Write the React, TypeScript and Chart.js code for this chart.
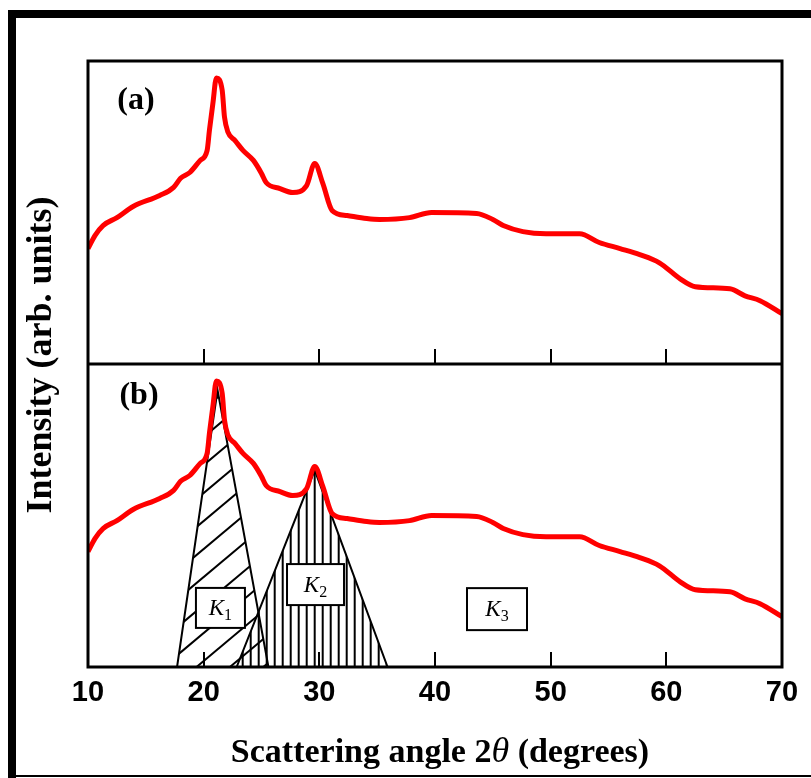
import React, { useEffect, useRef } from "react";
import { Chart, registerables } from "chart.js";
Chart.register(...registerables);

// Scattering angle 2θ (degrees)
const angles = [
  10.0, 10.6, 11.3, 12.5, 13.9, 16.2, 17.4, 18.0, 18.8, 19.7, 20.3, 20.5, 20.8, 21.1,
  21.6, 21.8, 22.1, 22.7, 23.4, 24.3, 25.0, 25.4, 26.6, 27.7, 28.9, 29.6, 30.3, 31.1,
  32.4, 34.1, 35.2, 37.8, 39.7, 43.6, 45.0, 45.9, 47.6, 49.6, 52.5, 54.2, 56.0, 57.7,
  59.4, 61.2, 62.5, 65.5, 66.8, 68.1, 70.0,
];
// Intensity (arb. units), same pattern in panels (a) and (b)
const intensity = [
  38.1, 42.4, 45.7, 48.3, 52.0, 55.6, 58.3, 61.3, 63.2, 67.2, 70.5, 77.2, 86.1, 94.4,
  90.4, 81.5, 76.5, 73.8, 70.5, 67.2, 62.9, 59.9, 57.9, 56.6, 58.9, 66.2, 59.6, 50.7,
  49.0, 48.0, 47.7, 48.3, 50.0, 49.7, 47.7, 45.7, 43.7, 43.0, 43.0, 40.1, 38.1, 36.1,
  33.4, 28.1, 25.5, 24.8, 22.5, 20.9, 16.6,
];
const xTicks = [10, 20, 30, 40, 50, 60, 70];
// Triangular peak components in panel (b)
const k1Angles = [17.7, 21.2, 25.6];
const k1Heights = [0, 91.4, 0];
const k2Angles = [22.85, 29.6, 35.9];
const k2Heights = [0, 65.0, 0];
// Component labels: name, subscript, angle, height
const labelNames = ["K", "K", "K"];
const labelSubs = ["1", "2", "3"];
const labelAngles = [21.45, 29.67, 45.36];
const labelHeights = [19.5, 27.2, 19.1];
const labelBoxW = [49, 57, 60];
const labelBoxH = [40, 41, 42];

const SERIF = '"Liberation Serif", "Times New Roman", serif';
const SANS = '"Liberation Sans", Arial, sans-serif';

const pts = (xs: number[], ys: number[]) => xs.map((x, i) => ({ x, y: ys[i] }));

export default function App() {
  const ref = useRef<HTMLCanvasElement | null>(null);
  useEffect(() => {
    const canvas = ref.current;
    if (!canvas) return;

    const decor = {
      id: "decor",
      beforeDatasetsDraw(chart: any) {
        const ctx = chart.ctx;
        const x = chart.scales.x;
        const yb = chart.scales.yb;
        const tri = (xs: number[], ys: number[]) =>
          xs.map((v, i) => [x.getPixelForValue(v), yb.getPixelForValue(ys[i])]);
        // K1 diagonal hatching
        const t1 = tri(k1Angles, k1Heights);
        ctx.save();
        ctx.beginPath();
        ctx.moveTo(t1[0][0], t1[0][1]);
        ctx.lineTo(t1[1][0], t1[1][1]);
        ctx.lineTo(t1[2][0], t1[2][1]);
        ctx.closePath();
        ctx.clip();
        ctx.strokeStyle = "#000";
        ctx.lineWidth = 2;
        const slope = Math.tan((40 * Math.PI) / 180);
        for (let c = 300; c < 1100; c += 28) {
          ctx.beginPath();
          ctx.moveTo(100, c);
          ctx.lineTo(400, c - slope * 300);
          ctx.stroke();
        }
        ctx.restore();
        // K2 vertical hatching
        const t2 = tri(k2Angles, k2Heights);
        ctx.save();
        ctx.beginPath();
        ctx.moveTo(t2[0][0], t2[0][1]);
        ctx.lineTo(t2[1][0], t2[1][1]);
        ctx.lineTo(t2[2][0], t2[2][1]);
        ctx.closePath();
        ctx.clip();
        ctx.strokeStyle = "#000";
        ctx.lineWidth = 2;
        for (let px = t2[1][0] - 8 * 12; px < t2[2][0] + 2; px += 8) {
          ctx.beginPath();
          ctx.moveTo(px, t2[1][1] - 5);
          ctx.lineTo(px, t2[0][1] + 2);
          ctx.stroke();
        }
        ctx.restore();
      },
      afterDatasetsDraw(chart: any) {
        const ctx = chart.ctx;
        const x = chart.scales.x;
        const yb = chart.scales.yb;
        // label boxes
        for (let i = 0; i < labelNames.length; i++) {
          const cx = x.getPixelForValue(labelAngles[i]);
          const cy = yb.getPixelForValue(labelHeights[i]);
          const w = labelBoxW[i];
          const h = labelBoxH[i];
          ctx.save();
          ctx.fillStyle = "#fff";
          ctx.fillRect(cx - w / 2, cy - h / 2, w, h);
          ctx.strokeStyle = "#000";
          ctx.lineWidth = 2;
          ctx.strokeRect(cx - w / 2, cy - h / 2, w, h);
          ctx.fillStyle = "#000";
          ctx.textBaseline = "alphabetic";
          ctx.font = `italic 23px ${SERIF}`;
          const kw = ctx.measureText(labelNames[i]).width;
          ctx.font = `16px ${SERIF}`;
          const sw = ctx.measureText(labelSubs[i]).width;
          const tx = cx - (kw + sw) / 2;
          ctx.font = `italic 23px ${SERIF}`;
          ctx.fillText(labelNames[i], tx, cy + 7);
          ctx.font = `16px ${SERIF}`;
          ctx.fillText(labelSubs[i], tx + kw, cy + 12);
          ctx.restore();
        }
      },
      afterDraw(chart: any) {
        const ctx = chart.ctx;
        const a = chart.chartArea;
        const x = chart.scales.x;
        const mid = (a.top + a.bottom) / 2;
        ctx.save();
        // outer border
        ctx.fillStyle = "#000";
        ctx.fillRect(8, 10, 811 - 8, 8);
        ctx.fillRect(8, 10, 8, 778 - 10);
        ctx.fillRect(8, 775, 811 - 8, 2);
        // panel frames
        ctx.strokeStyle = "#000";
        ctx.lineWidth = 3;
        ctx.strokeRect(a.left, a.top, a.right - a.left, a.bottom - a.top);
        ctx.beginPath();
        ctx.moveTo(a.left, mid);
        ctx.lineTo(a.right, mid);
        ctx.stroke();
        // inward ticks
        ctx.lineWidth = 2;
        for (const t of xTicks) {
          if (t === 10 || t === 70) continue;
          const px = Math.round(x.getPixelForValue(t));
          ctx.beginPath();
          ctx.moveTo(px, mid);
          ctx.lineTo(px, mid - 15);
          ctx.moveTo(px, a.bottom);
          ctx.lineTo(px, a.bottom - 15);
          ctx.stroke();
        }
        // tick labels
        ctx.fillStyle = "#000";
        ctx.font = `bold 29px ${SANS}`;
        ctx.textAlign = "center";
        ctx.textBaseline = "middle";
        for (const t of xTicks) {
          ctx.fillText(String(t), x.getPixelForValue(t), a.bottom + 26);
        }
        // panel letters
        ctx.font = `bold 32px ${SERIF}`;
        ctx.fillText("(a)", 136, 101);
        ctx.fillText("(b)", 139, 396);
        // x title
        ctx.textAlign = "left";
        ctx.textBaseline = "alphabetic";
        const p1 = "Scattering angle 2";
        const p2 = "θ";
        const p3 = " (degrees)";
        const fs = 34;
        ctx.font = `bold ${fs}px ${SERIF}`;
        const w1 = ctx.measureText(p1).width;
        const w3 = ctx.measureText(p3).width;
        ctx.font = `italic ${fs + 2}px ${SERIF}`;
        const w2 = ctx.measureText(p2).width;
        const total = w1 + w2 + w3;
        let sx = 440 - total / 2;
        const by = 762;
        ctx.font = `bold ${fs}px ${SERIF}`;
        ctx.fillText(p1, sx, by);
        sx += w1;
        ctx.font = `italic ${fs + 2}px ${SERIF}`;
        ctx.fillText(p2, sx, by);
        sx += w2;
        ctx.font = `bold ${fs}px ${SERIF}`;
        ctx.fillText(p3, sx, by);
        // y title
        ctx.translate(42, 355);
        ctx.rotate(-Math.PI / 2);
        ctx.textAlign = "center";
        ctx.textBaseline = "middle";
        ctx.font = `bold 36px ${SERIF}`;
        ctx.fillText("Intensity (arb. units)", 0, 0);
        ctx.restore();
      },
    };

    const chart = new Chart(canvas, {
      type: "line",
      data: {
        datasets: [
          {
            data: pts(angles, intensity),
            yAxisID: "ya",
            borderColor: "#ff0000",
            borderWidth: 5,
            pointRadius: 0,
            cubicInterpolationMode: "monotone",
            fill: false,
          },
          {
            data: pts(angles, intensity),
            yAxisID: "yb",
            borderColor: "#ff0000",
            borderWidth: 5,
            pointRadius: 0,
            cubicInterpolationMode: "monotone",
            fill: false,
          },
          {
            data: pts(k1Angles, k1Heights),
            yAxisID: "yb",
            borderColor: "#000",
            borderWidth: 2,
            pointRadius: 0,
            tension: 0,
            fill: false,
          },
          {
            data: pts(k2Angles, k2Heights),
            yAxisID: "yb",
            borderColor: "#000",
            borderWidth: 2,
            pointRadius: 0,
            tension: 0,
            fill: false,
          },
        ],
      },
      options: {
        animation: false,
        responsive: false,
        maintainAspectRatio: false,
        layout: { padding: { left: 88, top: 61, right: 29, bottom: 111 } },
        plugins: { legend: { display: false }, tooltip: { enabled: false } },
        scales: {
          x: { type: "linear", min: 10, max: 70, display: false },
          ya: { type: "linear", min: -100, max: 100, display: false },
          yb: { type: "linear", min: 0, max: 200, display: false },
        },
      },
      plugins: [decor],
    } as any);
    return () => chart.destroy();
  }, []);

  return (
    <div style={{ position: "fixed", left: 0, top: 0, width: 811, height: 778, background: "#fff" }}>
      <canvas ref={ref} width={811} height={778} style={{ display: "block" }} />
    </div>
  );
}
